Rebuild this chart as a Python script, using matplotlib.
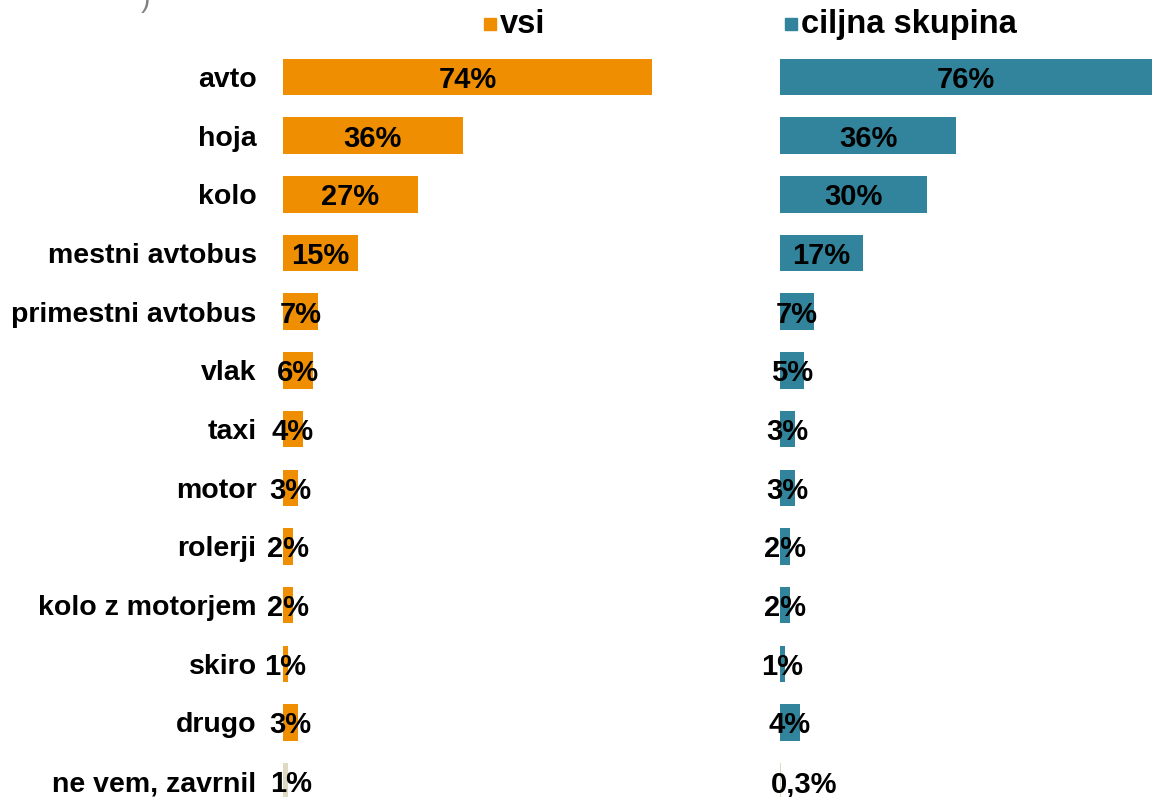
import matplotlib.pyplot as plt
from matplotlib.patches import Rectangle

categories = ['avto', 'hoja', 'kolo', 'mestni avtobus', 'primestni avtobus', 'vlak', 'taxi',
              'motor', 'rolerji', 'kolo z motorjem', 'skiro', 'drugo', 'ne vem, zavrnil']
vsi = [74, 36, 27, 15, 7, 6, 4, 3, 2, 2, 1, 3, 1]
ciljna = [76, 36, 30, 17, 7, 5, 3, 3, 2, 2, 1, 4, 0.3]
series_names = ['vsi', 'ciljna skupina']

orange = '#EE8E00'
teal = '#31849B'
beige = '#DDD9C3'

plt.rcParams['font.family'] = ['Liberation Sans', 'DejaVu Sans']

W, H = 1152, 797
fig = plt.figure(figsize=(W / 100, H / 100), dpi=100)

row = 58.67
top = 77 - row / 2
ax_h = row * len(categories)
bottom = H - top - ax_h

ax1 = fig.add_axes([283 / W, bottom / H, 497 / W, ax_h / H])
ax2 = fig.add_axes([780 / W, bottom / H, 372 / W, ax_h / H])


def fmt(v):
    if v == int(v):
        return f'{int(v)}%'
    return f'{v:.1f}%'.replace('.', ',')


# last label in each panel sits a bit right of the bar centre in the original
for ax, vals, col, xmax, last_dx in [(ax1, vsi, orange, 99.6, 4), (ax2, ciljna, teal, 76, 17)]:
    y = list(range(len(categories)))
    colors = [col] * (len(categories) - 1) + [beige]
    ax.barh(y, vals, height=0.62, color=colors)
    for yi, v in zip(y, vals):
        dx = last_dx if yi == len(categories) - 1 else 0
        ax.annotate(fmt(v), (v / 2, yi), xytext=(dx, 0), textcoords='offset points',
                    ha='center', va='center_baseline', fontsize=21,
                    fontweight='bold', color='black')
    ax.set_xlim(0, xmax)
    ax.set_ylim(len(categories) - 0.5, -0.5)
    ax.set_xticks([])
    for s in ax.spines.values():
        s.set_visible(False)

ax1.set_yticks(range(len(categories)))
ax1.set_yticklabels(categories, fontsize=20.5, fontweight='bold')
ax1.tick_params(axis='y', length=0, pad=19)
ax2.set_yticks([])

# legend: small square + label above each panel
for name, col, x in [(series_names[0], orange, 484), (series_names[1], teal, 785)]:
    fig.patches.append(Rectangle((x / W, 1 - 30 / H), 12 / W, 12 / H, color=col,
                                 transform=fig.transFigure, figure=fig))
    fig.text((x + 16) / W, 1 - 21 / H, name, fontsize=23.5, fontweight='bold',
             ha='left', va='center_baseline')

fig.text(145 / W, 1.0, ')', color='#808080', fontsize=20, ha='center', va='center')

fig.savefig('out.png', dpi=100)
